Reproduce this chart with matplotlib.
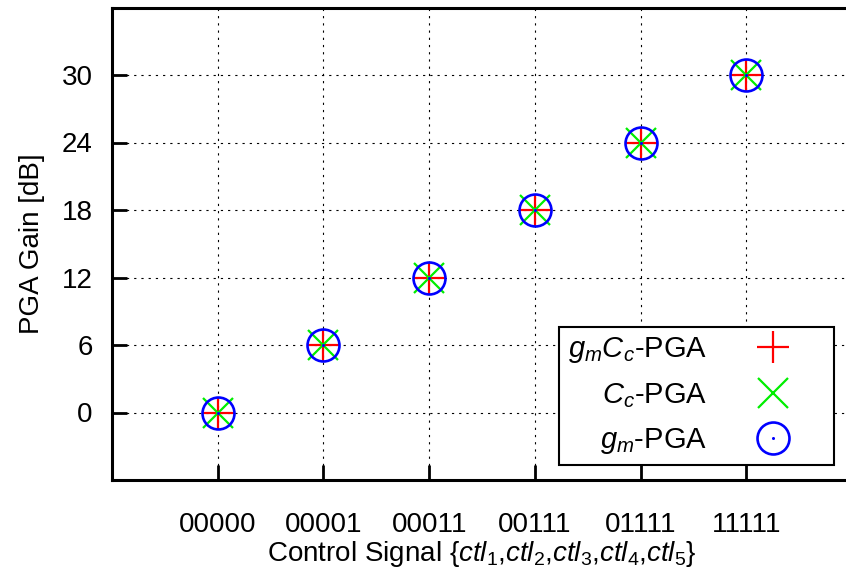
import matplotlib
matplotlib.use("Agg")
import matplotlib.pyplot as plt
from matplotlib.legend_handler import HandlerTuple

plt.rcParams['font.family'] = ['Liberation Sans', 'DejaVu Sans']
plt.rcParams['mathtext.fontset'] = 'custom'
plt.rcParams['mathtext.rm'] = 'Liberation Sans'
plt.rcParams['mathtext.it'] = 'Liberation Sans:italic'
plt.rcParams['mathtext.bf'] = 'Liberation Sans:bold'

categories = ['00000', '00001', '00011', '00111', '01111', '11111']
gain_gmcc = [0, 6, 12, 18, 24, 30]
gain_cc = [0, 6, 12, 18, 24, 30]
gain_gm = [0, 6, 12, 18, 24, 30]
yticks = [0, 6, 12, 18, 24, 30]

W, H = 846, 574
fig = plt.figure(figsize=(W / 100, H / 100), dpi=100)
ax = fig.add_axes([112 / W, 1 - 480 / H, (852 - 112) / W, (480 - 7.5) / H])

x = list(range(len(categories)))
fs = 20

l1, = ax.plot(x, gain_gmcc, linestyle='none', marker='+', markersize=23,
              markeredgewidth=1.6, color='#ff0000', zorder=3)
l2, = ax.plot(x, gain_cc, linestyle='none', marker='x', markersize=22,
              markeredgewidth=1.6, color='#00ee00', zorder=4)
l3, = ax.plot(x, gain_gm, linestyle='none', marker='o', markersize=23,
              markeredgewidth=1.9, markerfacecolor='none', color='#0000ff', zorder=5)
l3d, = ax.plot(x, gain_gm, linestyle='none', marker='o', markersize=2.2,
               markeredgewidth=0, color='#0000ff', zorder=6)

ax.set_xlim(-1, 6)
ax.set_ylim(-6, 36)
ax.set_xticks(x)
ax.set_xticklabels(categories, fontsize=fs)
ax.set_yticks(yticks)
ax.set_yticklabels([str(v) for v in yticks], fontsize=fs)

ax.tick_params(axis='both', direction='in', length=10.8, width=2, top=False, right=False)
ax.tick_params(axis='y', pad=14)
ax.tick_params(axis='x', pad=23)

ax.grid(True, color='black', linewidth=0.8, linestyle=(0, (2, 4.5)))
ax.set_axisbelow(True)
for s in ax.spines.values():
    s.set_linewidth(2.2)
ax.spines['right'].set_visible(False)

ax.set_ylabel('PGA Gain [dB]', fontsize=fs, labelpad=12)
ax.set_xlabel(r'Control Signal {$ctl_1$,$ctl_2$,$ctl_3$,$ctl_4$,$ctl_5$}', fontsize=fs, labelpad=0.5)

leg = ax.legend([l1, l2, (l3, l3d)], [r'$g_mC_c$-PGA', r'$C_c$-PGA', r'$g_m$-PGA'],
                handler_map={tuple: HandlerTuple(ndivide=1, pad=0)},
                loc='lower right', bbox_to_anchor=(834 / W, 1 - 465 / H),
                bbox_transform=fig.transFigure, borderaxespad=0,
                markerfirst=False, fontsize=21, fancybox=False, framealpha=1,
                edgecolor='black', borderpad=0.3, handlelength=3.6,
                handletextpad=0.45, labelspacing=0.55)
leg.get_frame().set_linewidth(1.5)

fig.savefig('out.png', dpi=100)
